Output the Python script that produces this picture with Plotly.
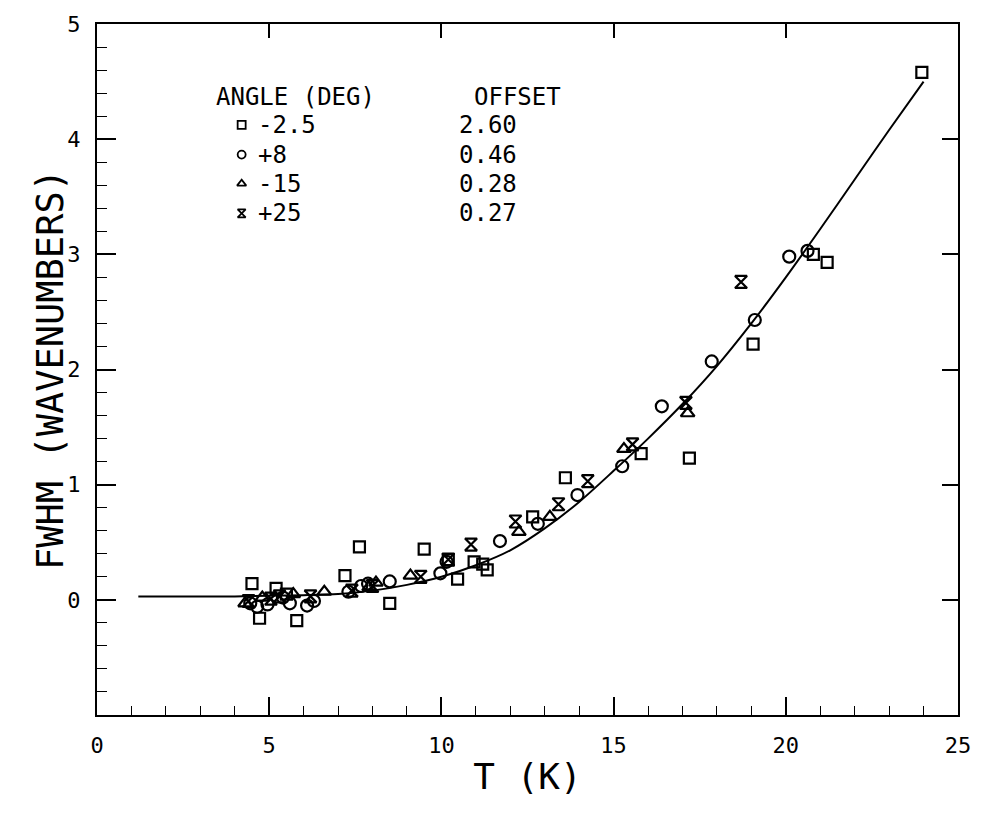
import plotly.graph_objects as go

# Measured FWHM (wavenumbers) vs temperature T (K), one series per angle
sq_T = [4.5, 4.72, 5.2, 5.5, 5.8, 7.2, 7.62, 8.5, 9.5, 10.2, 10.47, 10.95, 11.2, 11.33,
        12.65, 13.6, 15.8, 17.2, 19.05, 20.8, 21.2, 23.95]
sq_W = [0.14, -0.16, 0.10, 0.05, -0.18, 0.21, 0.46, -0.03, 0.44, 0.35, 0.18, 0.33, 0.31, 0.26,
        0.72, 1.06, 1.27, 1.23, 2.22, 3.00, 2.93, 4.58]

ci_T = [4.45, 4.65, 4.95, 5.4, 5.6, 6.1, 6.3, 7.3, 7.67, 7.87, 8.5, 9.97, 10.15, 11.7,
        12.8, 13.95, 15.25, 16.4, 17.85, 19.1, 20.1, 20.63]
ci_W = [-0.03, -0.06, -0.04, 0.02, -0.03, -0.05, -0.01, 0.07, 0.12, 0.14, 0.16, 0.23, 0.33, 0.51,
        0.66, 0.91, 1.16, 1.68, 2.07, 2.43, 2.98, 3.03]

tr_T = [4.3, 4.8, 5.7, 6.6, 7.9, 8.1, 9.1, 12.25, 13.15, 15.3, 17.15]
tr_W = [-0.03, 0.02, 0.05, 0.07, 0.11, 0.15, 0.21, 0.59, 0.72, 1.31, 1.62]

hg_T = [4.4, 5.05, 5.3, 6.2, 7.4, 8.0, 9.4, 10.2, 10.86, 12.15, 13.4, 14.25, 15.55, 17.1, 18.7]
hg_W = [-0.01, 0.01, 0.03, 0.03, 0.08, 0.12, 0.20, 0.35, 0.48, 0.68, 0.83, 1.03, 1.35, 1.71, 2.76]

# Fitted curve
fit_T = [1.2, 3, 4, 5, 6, 7, 8, 9, 10, 11, 12, 13, 14, 15, 16, 17, 18, 19, 20, 21, 22, 23, 24]
fit_W = [0.03, 0.03, 0.03, 0.035, 0.04, 0.05, 0.08, 0.13, 0.2, 0.3, 0.43, 0.62, 0.85, 1.12,
         1.4, 1.70, 2.03, 2.4, 2.8, 3.22, 3.65, 4.08, 4.5]

# Legend table
angle_labels = ["-2.5", "+8", "-15", "+25"]
offset_labels = ["2.60", "0.46", "0.28", "0.27"]
symbols = ["square-open", "circle-open", "triangle-up-open", "hourglass-open"]

FONT = "DejaVu Sans Mono"
INK = "black"

fig = go.Figure()

fig.add_trace(go.Scatter(x=fit_T, y=fit_W, mode="lines",
                         line=dict(color=INK, width=2, shape="spline", smoothing=0.8),
                         showlegend=False, hoverinfo="skip"))

series = [(sq_T, sq_W, symbols[0], 11), (ci_T, ci_W, symbols[1], 12),
          (tr_T, tr_W, symbols[2], 12), (hg_T, hg_W, symbols[3], 12)]
for xs, ys, sym, sz in series:
    fig.add_trace(go.Scatter(x=xs, y=ys, mode="markers",
                             marker=dict(symbol=sym, size=sz, color=INK, line=dict(color=INK, width=2.2)),
                             showlegend=False))

# Legend symbols on an overlay axis spanning the plot area
leg_y = [0.854, 0.811, 0.769, 0.726]
fig.add_trace(go.Scatter(x=[0.168] * 4, y=leg_y, mode="markers", xaxis="x2", yaxis="y2",
                         marker=dict(symbol=symbols, size=8, color=INK, line=dict(color=INK, width=1.8)),
                         showlegend=False, hoverinfo="skip"))

# Carrier for the mirrored top/right major ticks
fig.add_trace(go.Scatter(x=[None], y=[None], xaxis="x3", yaxis="y3", showlegend=False, hoverinfo="skip"))

ann = []
ann.append(dict(x=0.136, y=0.895, text="ANGLE (DEG)", xanchor="left"))
ann.append(dict(x=0.435, y=0.895, text="OFFSET", xanchor="left"))
for yy, a, o in zip(leg_y, angle_labels, offset_labels):
    ann.append(dict(x=0.185, y=yy, text=a, xanchor="left"))
    ann.append(dict(x=0.418, y=yy, text=o, xanchor="left"))
for a in ann:
    a.update(xref="x2", yref="y2", yanchor="middle", showarrow=False,
             font=dict(family=FONT, size=24, color=INK))

# Vertical axis title
ann.append(dict(xref="paper", yref="paper", x=-0.054, y=0.5, xanchor="center", yanchor="middle",
                text="FWHM (WAVENUMBERS)", textangle=-90, showarrow=False,
                font=dict(family=FONT, size=37, color=INK)))

axis_common = dict(showgrid=False, zeroline=False, showline=True, linecolor=INK, linewidth=2,
                   mirror=True, ticks="inside", tickcolor=INK, tickwidth=1.6,
                   tickfont=dict(family=FONT, size=22, color=INK), ticklabelstandoff=10)

fig.update_layout(
    width=983, height=816,
    margin=dict(l=97, r=18, t=22, b=101),
    paper_bgcolor="white", plot_bgcolor="white",
    annotations=ann,
    xaxis=dict(range=[0, 25], dtick=5, tick0=0, ticklen=18,
               minor=dict(dtick=1, ticklen=9, ticks="inside", tickcolor=INK, tickwidth=1.4),
               title=dict(text="T (K)", font=dict(family=FONT, size=36, color=INK), standoff=6),
               **axis_common),
    yaxis=dict(range=[-1, 5], tickvals=[0, 1, 2, 3, 4, 5], ticklen=19,
               minor=dict(dtick=0.2, tick0=0, ticklen=10, ticks="inside", tickcolor=INK, tickwidth=1.4),
               **axis_common),
    xaxis2=dict(domain=[0, 1], range=[0, 1], anchor="y2", overlaying="x", visible=False),
    yaxis2=dict(domain=[0, 1], range=[0, 1], anchor="x2", overlaying="y", visible=False),
    xaxis3=dict(range=[0, 25], dtick=5, tick0=0, overlaying="x", side="top", anchor="y3",
                ticks="inside", ticklen=14, tickcolor=INK, tickwidth=1.6,
                showticklabels=False, showgrid=False, zeroline=False, showline=False),
    yaxis3=dict(range=[-1, 5], dtick=1, tick0=0, overlaying="y", side="right", anchor="x3",
                ticks="inside", ticklen=16, tickcolor=INK, tickwidth=1.6,
                showticklabels=False, showgrid=False, zeroline=False, showline=False),
)

fig.write_html("out.html")
